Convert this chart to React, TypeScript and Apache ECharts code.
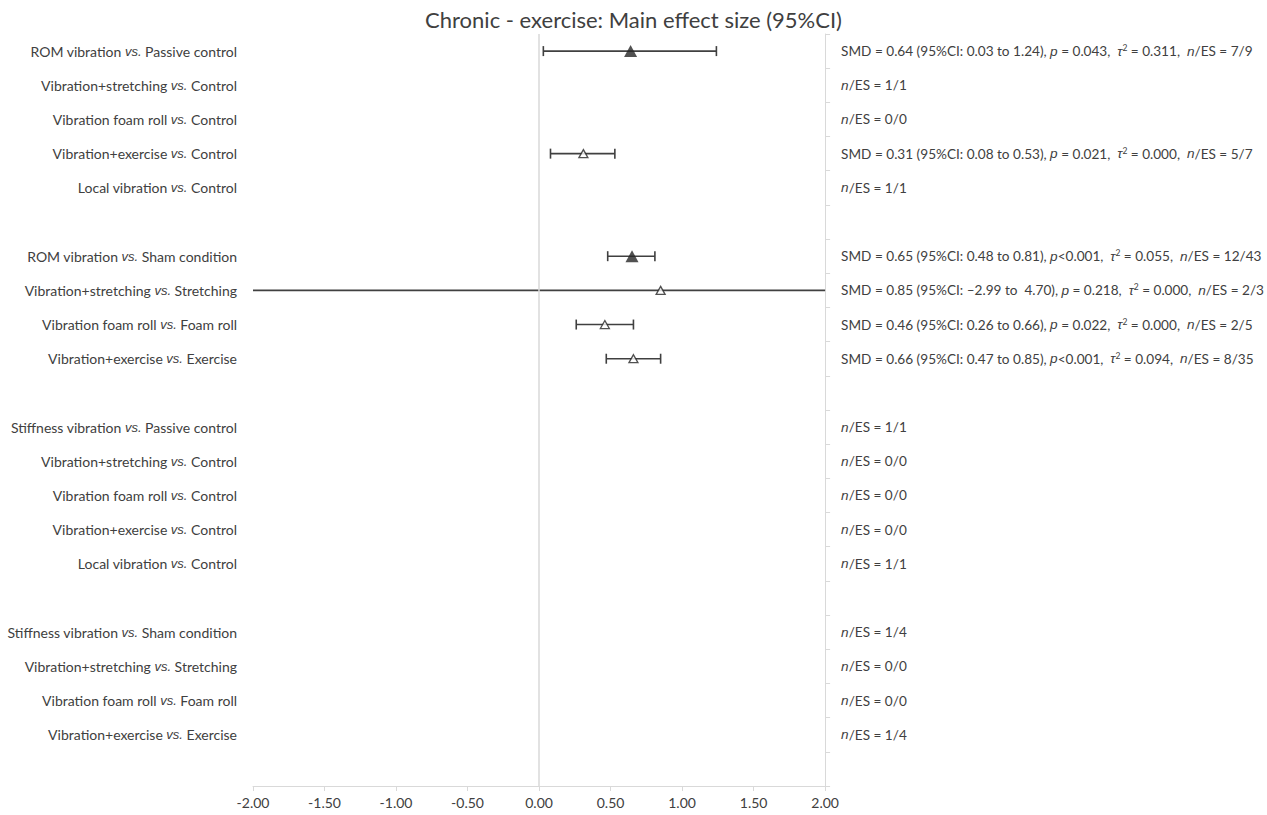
import React, { useEffect, useRef } from "react";
import * as echarts from "echarts";

// ---- data (null = blank spacer row) ----
const interventions: (string | null)[] = [
  "ROM vibration", "Vibration+stretching", "Vibration foam roll", "Vibration+exercise", "Local vibration", null,
  "ROM vibration", "Vibration+stretching", "Vibration foam roll", "Vibration+exercise", null,
  "Stiffness vibration", "Vibration+stretching", "Vibration foam roll", "Vibration+exercise", "Local vibration", null,
  "Stiffness vibration", "Vibration+stretching", "Vibration foam roll", "Vibration+exercise", null,
];
const comparators: (string | null)[] = [
  "Passive control", "Control", "Control", "Control", "Control", null,
  "Sham condition", "Stretching", "Foam roll", "Exercise", null,
  "Passive control", "Control", "Control", "Control", "Control", null,
  "Sham condition", "Stretching", "Foam roll", "Exercise", null,
];
const smd: (number | null)[] = [
  0.64, null, null, 0.31, null, null,
  0.65, 0.85, 0.46, 0.66, null,
  null, null, null, null, null, null,
  null, null, null, null, null,
];
const ciLow: (number | null)[] = [
  0.03, null, null, 0.08, null, null,
  0.48, -2.99, 0.26, 0.47, null,
  null, null, null, null, null, null,
  null, null, null, null, null,
];
const ciHigh: (number | null)[] = [
  1.24, null, null, 0.53, null, null,
  0.81, 4.70, 0.66, 0.85, null,
  null, null, null, null, null, null,
  null, null, null, null, null,
];
const pText: (string | null)[] = [
  " = 0.043", null, null, " = 0.021", null, null,
  "<0.001", " = 0.218", " = 0.022", "<0.001", null,
  null, null, null, null, null, null,
  null, null, null, null, null,
];
const tau2: (string | null)[] = [
  "0.311", null, null, "0.000", null, null,
  "0.055", "0.000", "0.000", "0.094", null,
  null, null, null, null, null, null,
  null, null, null, null, null,
];
const nES: (string | null)[] = [
  "7/9", "1/1", "0/0", "5/7", "1/1", null,
  "12/43", "2/3", "2/5", "8/35", null,
  "1/1", "0/0", "0/0", "0/0", "1/1", null,
  "1/4", "0/0", "0/0", "1/4", null,
];
const pooled: boolean[] = [
  true, false, false, false, false, false,
  true, false, false, false, false,
  false, false, false, false, false, false,
  false, false, false, false, false,
];
const xTicks = { min: -2, max: 2, interval: 0.5 };

const fmtNum = (v: number) => (v < 0 ? "\u2013" + Math.abs(v).toFixed(2) : v.toFixed(2));

export default function App() {
  const ref = useRef<HTMLDivElement>(null);
  useEffect(() => {
    if (!ref.current) return;
    const chart = echarts.init(ref.current, null, { renderer: "svg" });
    const rows = interventions.map((_, i) => String(i));
    const txt = "#404040";
    const font = "Lato";
    const ital = "Liberation Sans";

    const leftLabel = (idx: number) => {
      const a = interventions[idx];
      if (!a) return "";
      return `${a} {i|vs.} ${comparators[idx]}`;
    };
    const rightLabel = (idx: number) => {
      const n = nES[idx];
      if (!n) return "";
      const s = smd[idx];
      if (s == null) return `{i|n}/ES = ${n}`;
      const lo = ciLow[idx] as number;
      const hi = ciHigh[idx] as number;
      return `SMD = ${s.toFixed(2)} (95%CI: ${fmtNum(lo)} to ${(lo < 0 ? " " : "") + fmtNum(hi)}), {i|p}${pText[idx]},  {i|\u03c4}{sup|2} = ${tau2[idx]},  {i|n}/ES = ${n}`;
    };

    const errData: any[] = [];
    const filled: any[] = [];
    const open: any[] = [];
    smd.forEach((v, i) => {
      if (v == null) return;
      errData.push([i, ciLow[i], ciHigh[i]]);
      if (pooled[i]) filled.push([v, i]);
      else open.push([v, i]);
    });

    chart.setOption({
      animation: false,
      backgroundColor: "#ffffff",
      title: {
        text: "Chronic - exercise: Main effect size (95%CI)",
        left: "center",
        top: 3,
        textStyle: { fontFamily: font, fontSize: 22, fontWeight: "normal", color: "#404040" },
      },
      grid: { left: 253, right: 440, top: 34, bottom: 29 },
      xAxis: {
        type: "value",
        min: xTicks.min,
        max: xTicks.max,
        interval: xTicks.interval,
        splitLine: { show: false },
        axisLine: { show: true, onZero: false, lineStyle: { color: "#d9d9d9", width: 1 } },
        axisTick: { show: true, length: 5, lineStyle: { color: "#d9d9d9" } },
        axisLabel: {
          formatter: (v: number) => v.toFixed(2),
          color: "#404040",
          fontFamily: font,
          fontSize: 14,
          margin: 9,
        },
      },
      yAxis: [
        {
          type: "category",
          data: rows,
          inverse: true,
          position: "left",
          axisLine: { show: false },
          axisTick: { show: false },
          splitLine: { show: false },
          axisLabel: {
            margin: 16,
            color: txt,
            fontFamily: font,
            fontSize: 14,
            formatter: (_v: string, idx: number) => leftLabel(idx),
            rich: {
              i: { fontStyle: "italic", fontFamily: ital, fontSize: 13, color: txt },
            },
          },
        },
        {
          type: "category",
          data: rows,
          inverse: true,
          position: "right",
          axisLine: { show: true, lineStyle: { color: "#d9d9d9", width: 1 } },
          axisTick: { show: true, length: 5, lineStyle: { color: "#d9d9d9" } },
          splitLine: { show: false },
          axisLabel: {
            margin: 16,
            color: txt,
            fontFamily: font,
            fontSize: 13.6,
            align: "left",
            formatter: (_v: string, idx: number) => rightLabel(idx),
            rich: {
              i: { fontStyle: "italic", fontFamily: ital, fontSize: 13.6, color: txt },
              sup: { fontFamily: font, fontSize: 8.5, color: txt, verticalAlign: "top", padding: [0, 0, 6, 0] },
            },
          },
        },
      ],
      series: [
        {
          type: "line",
          data: [],
          markLine: {
            silent: true,
            symbol: "none",
            label: { show: false },
            lineStyle: { color: "#d9d9d9", width: 1.5, type: "solid" },
            data: [{ xAxis: 0 }],
          },
        },
        {
          type: "custom",
          yAxisIndex: 0,
          clip: true,
          encode: { x: [1, 2], y: 0 },
          data: errData,
          renderItem: (_params: any, api: any) => {
            const row = api.value(0);
            const lo = api.value(1);
            const hi = api.value(2);
            const loC = Math.max(lo, xTicks.min);
            const hiC = Math.min(hi, xTicks.max);
            const p1 = api.coord([loC, row]);
            const p2 = api.coord([hiC, row]);
            const h = 5;
            const style = { stroke: "#404040", lineWidth: 1.6 };
            const children: any[] = [
              { type: "line", shape: { x1: p1[0], y1: p1[1], x2: p2[0], y2: p2[1] }, style },
            ];
            if (lo >= xTicks.min)
              children.push({ type: "line", shape: { x1: p1[0], y1: p1[1] - h, x2: p1[0], y2: p1[1] + h }, style });
            if (hi <= xTicks.max)
              children.push({ type: "line", shape: { x1: p2[0], y1: p2[1] - h, x2: p2[0], y2: p2[1] + h }, style });
            return { type: "group", children };
          },
          z: 3,
        },
        {
          type: "scatter",
          data: filled,
          symbol: "triangle",
          symbolSize: [13, 12],
          itemStyle: { color: "#262626" },
          z: 5,
        },
        {
          type: "scatter",
          data: open,
          symbol: "triangle",
          symbolSize: [9, 8],
          itemStyle: { color: "#ffffff", borderColor: "#262626", borderWidth: 1.3 },
          z: 5,
        },
      ],
    });
    return () => chart.dispose();
  }, []);
  return <div ref={ref} style={{ width: 1267, height: 815, position: "absolute", left: 0, top: 0 }} />;
}
